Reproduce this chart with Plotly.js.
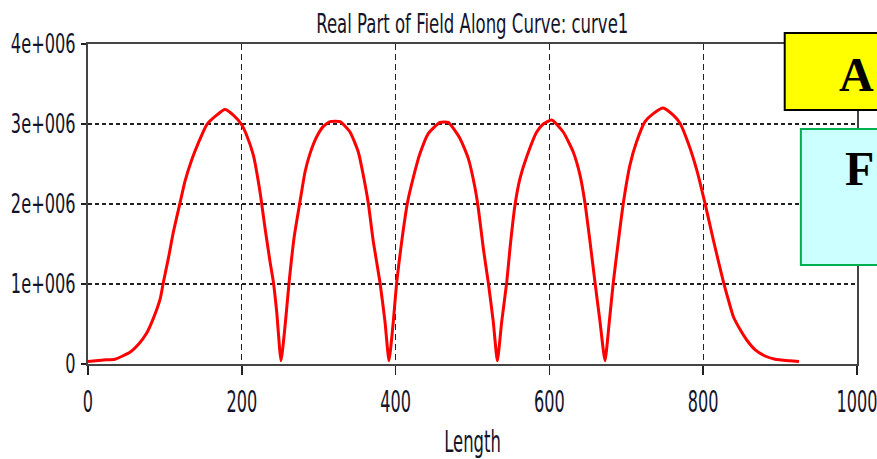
<!DOCTYPE html>
<html>
<head>
<meta charset="utf-8">
<script src="https://cdn.plot.ly/plotly-3.0.1.min.js"></script>
<style>
  html, body { margin: 0; padding: 0; background: #ffffff; }
  #chart { width: 877px; height: 459px; }
</style>
</head>
<body>
<div id="chart"></div>
<script>
// Position along curve1
const lengthPts = [
  0, 10, 20, 35, 45, 55, 66, 76, 85, 94, 98, 104.5, 111, 119.6, 126, 134.8, 143.4, 154.3, 167.3, 178,
  189, 199.8, 206.3, 215, 223.7, 230.2, 236.7, 241, 245.4, 251, 257, 261.5, 268, 275.7, 282.2, 288.7,
  297.4, 306, 314.7, 327.7, 340.7, 351.5, 358, 364.5, 371, 379.7, 386.2, 391.4, 397, 401.4, 407.9,
  415.3, 423, 431.7, 442.5, 457.7, 468.5, 483.7, 494.5, 503.3, 507.5, 514, 520.5, 527, 532.3, 538,
  544.5, 548.8, 555.3, 561.8, 570.5, 583.5, 592, 603, 618, 631, 639.8, 646.3, 652.8, 659.3, 665.8,
  672.3, 677.9, 683.1, 689.6, 696.1, 704.8, 713.5, 724.3, 735.1, 748, 761.1, 769.8, 780.6, 791.5,
  802.3, 813.2, 826.2, 832.8, 839.3, 848, 856.6, 867.3, 880.4, 893.4, 912.9, 924.6
];
// Real part of the field at each position
const fieldRe = [
  0.03e6, 0.04e6, 0.05e6, 0.06e6, 0.10e6, 0.15e6, 0.25e6, 0.38e6, 0.57e6, 0.82e6, 1.02e6, 1.32e6, 1.65e6, 2.01e6, 2.28e6, 2.55e6, 2.76e6, 2.99e6, 3.11e6, 3.18e6,
  3.11e6, 2.99e6, 2.86e6, 2.61e6, 2.15e6, 1.70e6, 1.28e6, 1.03e6, 0.65e6, 0.04e6, 0.55e6, 1.02e6, 1.58e6, 2.03e6, 2.40e6, 2.63e6,
  2.84e6, 2.97e6, 3.03e6, 3.03e6, 2.90e6, 2.65e6, 2.36e6, 2.01e6, 1.53e6, 1.02e6, 0.53e6, 0.04e6, 0.53e6, 1.02e6, 1.53e6,
  2.01e6, 2.33e6, 2.63e6, 2.88e6, 3.02e6, 3.02e6, 2.82e6, 2.57e6, 2.20e6, 1.95e6, 1.45e6, 1.02e6, 0.53e6, 0.04e6, 0.53e6,
  1.02e6, 1.45e6, 1.99e6, 2.32e6, 2.59e6, 2.90e6, 3.00e6, 3.05e6, 2.90e6, 2.65e6, 2.36e6, 2.01e6, 1.53e6, 1.02e6, 0.53e6,
  0.04e6, 0.53e6, 1.02e6, 1.53e6, 2.01e6, 2.49e6, 2.78e6, 3.03e6, 3.13e6, 3.20e6, 3.11e6, 3.01e6, 2.76e6, 2.43e6,
  2.01e6, 1.55e6, 1.03e6, 0.80e6, 0.59e6, 0.43e6, 0.30e6, 0.18e6, 0.10e6, 0.06e6, 0.04e6, 0.03e6
];

const xTickVals = [0, 200, 400, 600, 800, 1000];
const yTickVals = [0, 1e6, 2e6, 3e6, 4e6];
const yTickText = ['0', '1e+006', '2e+006', '3e+006', '4e+006'];

const chartTitle = 'Real Part of Field Along Curve: curve1';
const xTitle = 'Length';
const noteA = 'A';
const noteF = 'F';

const txtFont = 'DejaVu Sans, Verdana, sans-serif';
const txtColor = '#14142a';
const noteFont = { family: 'Liberation Serif, Times New Roman, serif', size: 48, color: '#000', weight: 'bold' };

const trace = {
  x: lengthPts,
  y: fieldRe,
  type: 'scatter',
  mode: 'lines',
  line: { color: '#ff0000', width: 3, shape: 'spline', smoothing: 0.5 },
  hoverinfo: 'skip'
};

const layout = {
  width: 877,
  height: 459,
  margin: { l: 88, r: 20, t: 44, b: 95 },
  paper_bgcolor: '#ffffff',
  plot_bgcolor: '#ffffff',
  showlegend: false,
  title: {
    text: chartTitle,
    font: { family: txtFont, size: 27, color: txtColor },
    x: 0.5385, xanchor: 'center', xref: 'container',
    y: 0.949, yanchor: 'middle', yref: 'container'
  },
  xaxis: {
    range: [0, 1000],
    tickvals: xTickVals,
    ticktext: xTickVals.map(String),
    ticks: 'outside', ticklen: 9, tickwidth: 1.5, tickcolor: '#222',
    tickfont: { family: txtFont, size: 31, color: txtColor },
    ticklabeloverflow: 'allow',
    showline: true, linecolor: '#444', linewidth: 2, mirror: true,
    showgrid: true, gridcolor: '#222', gridwidth: 1.2, griddash: '6px,4px',
    zeroline: false,
    title: { text: xTitle, font: { family: txtFont, size: 31, color: txtColor }, standoff: 19 }
  },
  yaxis: {
    range: [0, 4e6],
    tickvals: yTickVals,
    ticktext: yTickText,
    ticks: 'outside', ticklen: 5, tickwidth: 1.5, tickcolor: '#222',
    tickfont: { family: txtFont, size: 27, color: txtColor },
    showline: true, linecolor: '#444', linewidth: 2, mirror: true,
    showgrid: true, gridcolor: '#222', gridwidth: 1.6, griddash: '4px,3px',
    zeroline: false
  },
  shapes: [
    { type: 'rect', xref: 'paper', yref: 'paper', x0: 0.906, x1: 1.3, y0: 0.794, y1: 1.034,
      fillcolor: '#ffff00', line: { color: '#000000', width: 2 }, layer: 'above' },
    { type: 'rect', xref: 'paper', yref: 'paper', x0: 0.927, x1: 1.3, y0: 0.309, y1: 0.734,
      fillcolor: '#ccffff', line: { color: '#00b050', width: 2 }, layer: 'above' }
  ],
  annotations: [
    { text: noteA, xref: 'paper', yref: 'paper', x: 1.0245, y: 0.905, xanchor: 'right', yanchor: 'middle',
      showarrow: false, font: noteFont },
    { text: noteF, xref: 'paper', yref: 'paper', x: 1.0245, y: 0.61, xanchor: 'right', yanchor: 'middle',
      showarrow: false, font: noteFont }
  ]
};

// Narrow the axis and title text horizontally, keeping each label's anchor in place
function narrowText(gd) {
  const groups = [
    ['.xtick text', 0.52],
    ['.ytick text', 0.60],
    ['.g-gtitle text', 0.613],
    ['.g-xtitle text', 0.53]
  ];
  groups.forEach(([sel, k]) => {
    gd.querySelectorAll(sel).forEach(t => {
      if (t.getAttribute('data-narrow')) return;
      const ax = parseFloat(t.getAttribute('x')) || 0;
      const tr = t.getAttribute('transform') || '';
      t.setAttribute('transform', tr + ' translate(' + ax + ',0) scale(' + k + ',1) translate(' + (-ax) + ',0)');
      t.setAttribute('data-narrow', '1');
    });
  });
}

const gd = document.getElementById('chart');
Plotly.newPlot(gd, [trace], layout, { staticPlot: true, displayModeBar: false }).then(() => narrowText(gd));
</script>
</body>
</html>
